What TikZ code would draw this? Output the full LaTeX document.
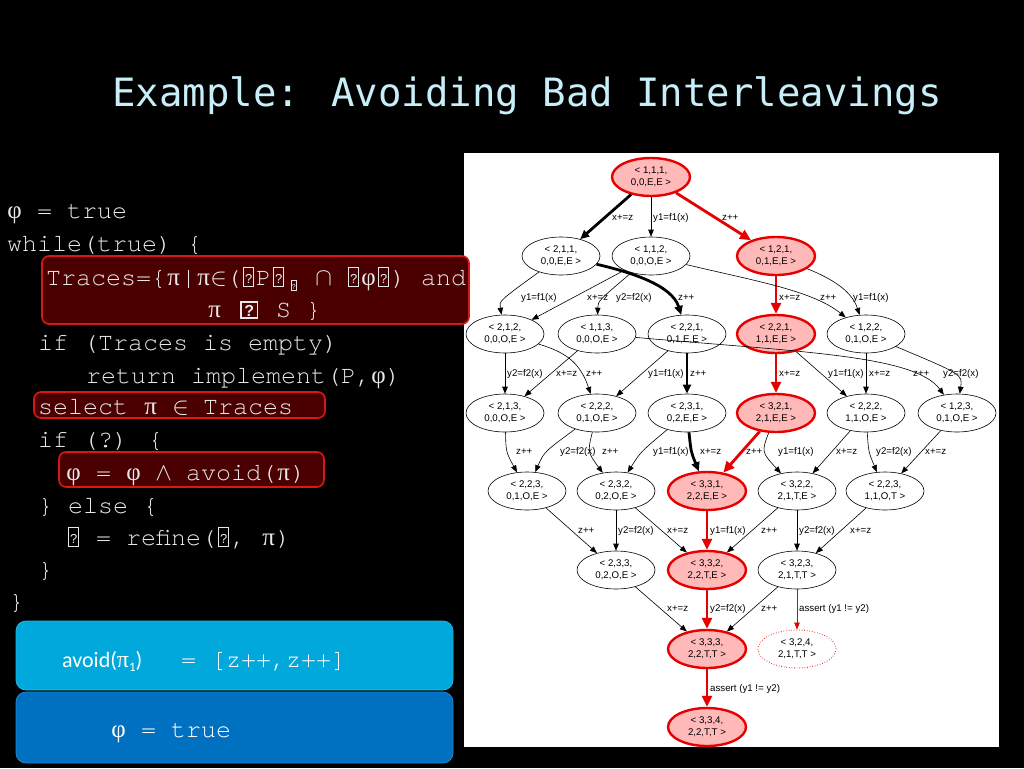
\documentclass[tikz,border=0pt]{standalone}
\usepackage{fontspec}
\usepackage{graphicx}
\usetikzlibrary{shapes.geometric,arrows.meta,calc}
\setmainfont{Liberation Serif}
\newfontfamily\codef{TeX Gyre Cursor}
\newfontfamily\titlef{DejaVu Sans Mono}
\newfontfamily\graphf{Liberation Sans}
\newfontfamily\calf{Carlito}
\newfontfamily\grf{Liberation Serif}
\definecolor{titleC}{HTML}{C8EEF8}
\definecolor{codeC}{HTML}{E8E8E8}
\definecolor{hlFill}{HTML}{4A0000}
\definecolor{hlDraw}{HTML}{D81818}
\definecolor{boxA}{HTML}{00A8DC}
\definecolor{boxB}{HTML}{0070C0}
\definecolor{redC}{HTML}{E60000}
\definecolor{pinkC}{HTML}{FFB9B9}
\newcommand\cell[1]{\makebox[0.6em][c]{#1}}
\newcommand\gpi{\cell{\grf π}}
\newcommand\gphi{\cell{\grf φ}}
\newcommand\gin{\cell{$\in$}}
\newcommand\gcap{\cell{$\cap$}}
\newcommand\gand{\cell{$\wedge$}}
\newcommand\qb{\cell{\fboxsep=0pt\fboxrule=0.8pt\fbox{\makebox[9pt]{\rule[-1pt]{0pt}{18pt}\raisebox{2pt}{\graphf\fontsize{13}{13}\selectfont ?}}}}}
\newcommand\qbs{\cell{\raisebox{-5pt}{\fboxsep=0pt\fboxrule=0.6pt\fbox{\makebox[5pt]{\rule{0pt}{9pt}\raisebox{1pt}{\graphf\fontsize{7}{7}\selectfont ?}}}}}}
\newcommand\qbb{{\fboxsep=0pt\fboxrule=1.6pt\fbox{\makebox[15pt]{\rule{0pt}{14pt}\raisebox{1pt}{\graphf\bfseries\fontsize{16}{16}\selectfont ?}}}}}
% curved edge through waypoint (#7,#5); label left edge at (#4,#5)
\newcommand\edg[7]{\draw[#1] (#2) .. controls ($2*(#7,#5)-0.5*(#2)-0.5*(#3)$) .. (#3);\node[lbl] (L#2#3) at (#4,#5) {#6};}
\newcommand\edgs[6]{\draw[#1] (#2) -- (#3);\node[lbl] (L#2#3) at (#4,#5) {#6};}
\newcommand\edgc[8]{\draw[#1] (#2) .. controls #7 and #8 .. (#3);\node[lbl] (L#2#3) at (#4,#5) {#6};}
\begin{document}
\begin{tikzpicture}[x=1pt,y=-1pt,
  code/.style={anchor=base west, inner sep=0pt, text=codeC, font=\codef\fontsize{25}{30}\selectfont},
  hl/.style={fill=hlFill, draw=hlDraw, line width=1.6pt, rounded corners=7pt},
  gn/.style={ellipse, draw=black, line width=0.6pt, fill=white, minimum width=78pt, minimum height=38pt, inner sep=0pt, align=center, font=\graphf\fontsize{9.7}{12}\selectfont},
  rn/.style={gn, draw=redC, line width=2.4pt, fill=pinkC},
  dn/.style={gn, draw=redC, dotted, line width=0.9pt},
  lbl/.style={anchor=west, inner sep=0pt, font=\graphf\fontsize{9.7}{11}\selectfont},
  e/.style={draw=black, line width=0.6pt, -{Triangle[length=7pt,width=5.5pt]}},
  eb/.style={draw=black, line width=2.8pt, -{Triangle[length=9pt,width=8pt]}},
  er/.style={draw=redC, line width=2.8pt, -{Triangle[length=11pt,width=10pt]}},
  erthin/.style={draw=redC, line width=0.7pt, -{Triangle[length=7pt,width=5.5pt]}}]
\useasboundingbox (0,0) rectangle (1024,768);
\fill[black] (0,0) rectangle (1024,768);
% graph panel
\fill[white] (464,153) rectangle (999,747);
% title
\node[anchor=base, inner sep=0pt, text=titleC, font=\titlef\fontsize{39}{45}\selectfont] (title) at (527,106) {Example: Avoiding Bad Interleavings};
% highlight boxes
\draw[hl] (42,256) rectangle (469,324);
\draw[hl] (34,392) rectangle (325,418);
\draw[hl] (59,452) rectangle (324,487);
% code
\node[code] (c1) at (7,218) {\gphi{} = true};
\node[code] (c2) at (7,251) {while(true) \{};
\node[code] (c3) at (46,285) {Traces=\{\gpi|\gpi\gin(\qb P\qb\qbs\ \gcap\ \qb\gphi\qb) and};
\node[code] (c4) at (207,317) {\gpi\ \makebox[39pt][l]{\hspace{3pt}\qbb}S \}};
\node[code] (c5) at (38,350) {if (Traces is empty)};
\node[code] (c6) at (86,383) {return implement(P,\gphi)};
\node[code] (c7) at (38,414) {select \gpi{} \gin{} Traces};
\node[code] (c8) at (38,447) {if (?) \{};
\node[code] (c9) at (66,480) {\gphi{} = \gphi{} \gand{} avoid(\gpi)};
\node[code] (c10) at (38,513) {\} else \{};
\node[code] (c11) at (66,545) {\qb{} = refine(\qb, \gpi)};
\node[code] (c12) at (38,577) {\}};
\node[code] (c13) at (9,609) {\}};
% blue boxes
\draw[fill=boxA, draw=boxA!85!white, line width=0.8pt, rounded corners=10pt] (16,621) rectangle (453,690);
\draw[fill=boxB, draw=boxB!85!white, line width=0.8pt, rounded corners=10pt] (16,692) rectangle (453,763);
\node[anchor=base west, inner sep=0pt, text=white] (avoidtxt) at (62,667) {\makebox[119pt][l]{\calf\fontsize{22}{26}\selectfont avoid(\grf\fontsize{24}{26}\selectfont π\raisebox{-4pt}{\calf\fontsize{13}{13}\selectfont 1}\calf\fontsize{22}{26}\selectfont)}\codef\fontsize{25}{30}\selectfont = [z++,z++]};
\node[anchor=base west, inner sep=0pt, text=white, font=\codef\fontsize{25}{30}\selectfont] (phitrue) at (111,737) {\gphi{} = true};
% nodes
\node[rn] (n111) at (651,177) {< 1,1,1,\\0,0,E,E >};
\node[gn] (n211) at (561,256) {< 2,1,1,\\0,0,E,E >};
\node[gn] (n112) at (651,256) {< 1,1,2,\\0,0,O,E >};
\node[rn] (n121) at (776,256) {< 1,2,1,\\0,1,E,E >};
\node[gn] (n212) at (505,334) {< 2,1,2,\\0,0,O,E >};
\node[gn] (n113) at (597,334) {< 1,1,3,\\0,0,O,E >};
\node[gn] (n221) at (687,334) {< 2,2,1,\\0,1,E,E >};
\node[rn] (m221) at (776,334) {< 2,2,1,\\1,1,E,E >};
\node[gn] (n122) at (866,334) {< 1,2,2,\\0,1,O,E >};
\node[gn] (n213) at (505,413) {< 2,1,3,\\0,0,O,E >};
\node[gn] (n222) at (597,413) {< 2,2,2,\\0,1,O,E >};
\node[gn] (n231) at (687,413) {< 2,3,1,\\0,2,E,E >};
\node[rn] (n321) at (776,413) {< 3,2,1,\\2,1,E,E >};
\node[gn] (m222) at (866,413) {< 2,2,2,\\1,1,O,E >};
\node[gn] (n123) at (957,413) {< 1,2,3,\\0,1,O,E >};
\node[gn] (n223) at (527,491) {< 2,2,3,\\0,1,O,E >};
\node[gn] (n232) at (616,491) {< 2,3,2,\\0,2,O,E >};
\node[rn] (n331) at (707,491) {< 3,3,1,\\2,2,E,E >};
\node[gn] (n322) at (797,491) {< 3,2,2,\\2,1,T,E >};
\node[gn] (m223) at (885,491) {< 2,2,3,\\1,1,O,T >};
\node[gn] (n233) at (616,570) {< 2,3,3,\\0,2,O,E >};
\node[rn] (n332) at (707,570) {< 3,3,2,\\2,2,T,E >};
\node[gn] (n323) at (797,570) {< 3,2,3,\\2,1,T,T >};
\node[rn] (n333) at (707,649) {< 3,3,3,\\2,2,T,T >};
\node[dn] (n324) at (797,649) {< 3,2,4,\\2,1,T,T >};
\node[rn] (n334) at (707,727) {< 3,3,4,\\2,2,T,T >};
% edges row 0-1
\edgs{eb}{n111}{n211}{612}{218}{x+=z}
\edgs{e}{n111}{n112}{653}{218}{y1=f1(x)}
\edgs{er}{n111}{n121}{722}{218}{z++}
% row 1-2
\edg{e}{n211}{n212}{521}{298}{y1=f1(x)}{516}
\edgs{e}{n112}{n212}{587}{298}{x+=z}
\edg{e}{n112}{n113}{616}{298}{y2=f2(x)}{611}
\edgc{eb}{n211}{n221}{678}{298}{z++}{(630,272)}{(672,285)}
\edgs{er}{n121}{m221}{779}{298}{x+=z}
\edgc{e}{n112}{n122}{820}{298}{z++}{(750,280)}{(812,290)}
\edgc{e}{n121}{n122}{853}{298}{y1=f1(x)}{(835,280)}{(852,292)}
% row 2-3
\edgs{e}{n212}{n213}{507}{374}{y2=f2(x)}
\edgs{e}{n113}{n213}{556}{374}{x+=z}
\edgc{e}{n212}{n222}{586}{374}{z++}{(565,352)}{(580,362)}
\edgs{e}{n221}{n222}{648}{374}{y1=f1(x)}
\edgs{eb}{n221}{n231}{690}{374}{z++}
\edgs{er}{m221}{n321}{779}{374}{x+=z}
\edgs{e}{m221}{m222}{828}{374}{y1=f1(x)}
\edgs{e}{n122}{m222}{869}{374}{x+=z}
\edgc{e}{n113}{n123}{913}{374}{z++}{(800,352)}{(915,355)}
\edg{e}{n122}{n123}{943}{374}{y2=f2(x)}{937}
% row 3-4
\edg{e}{n213}{n223}{516}{452}{z++}{511}
\edg{e}{n222}{n223}{560}{452}{y2=f2(x)}{553}
\edg{e}{n222}{n232}{602}{452}{z++}{597}
\edg{e}{n231}{n232}{653}{452}{y1=f1(x)}{646}
\edg{eb}{n231}{n331}{700}{452}{x+=z}{694}
\edgs{er}{n321}{n331}{746}{452}{z++}
\edg{e}{n321}{n322}{778}{452}{y1=f1(x)}{774}
\edgs{e}{m222}{n322}{836}{452}{x+=z}
\edg{e}{m222}{m223}{876}{452}{y2=f2(x)}{872}
\edgs{e}{n123}{m223}{925}{452}{x+=z}
% row 4-5
\edgs{e}{n223}{n233}{578}{531}{z++}
\edgs{e}{n232}{n233}{618}{531}{y2=f2(x)}
\edgs{e}{n232}{n332}{667}{531}{x+=z}
\edgs{er}{n331}{n332}{710}{531}{y1=f1(x)}
\edgs{e}{n322}{n332}{761}{531}{z++}
\edgs{e}{n322}{n323}{799}{531}{y2=f2(x)}
\edgs{e}{m223}{n323}{850}{531}{x+=z}
% row 5-6
\edgs{e}{n233}{n333}{667}{609}{x+=z}
\edgs{er}{n332}{n333}{710}{609}{y2=f2(x)}
\edgs{e}{n323}{n333}{761}{609}{z++}
\edgs{erthin}{n323}{n324}{799}{609}{assert (y1 != y2)}
% row 6-7
\edgs{er}{n333}{n334}{710}{689}{assert (y1 != y2)}
\end{tikzpicture}
\end{document}
